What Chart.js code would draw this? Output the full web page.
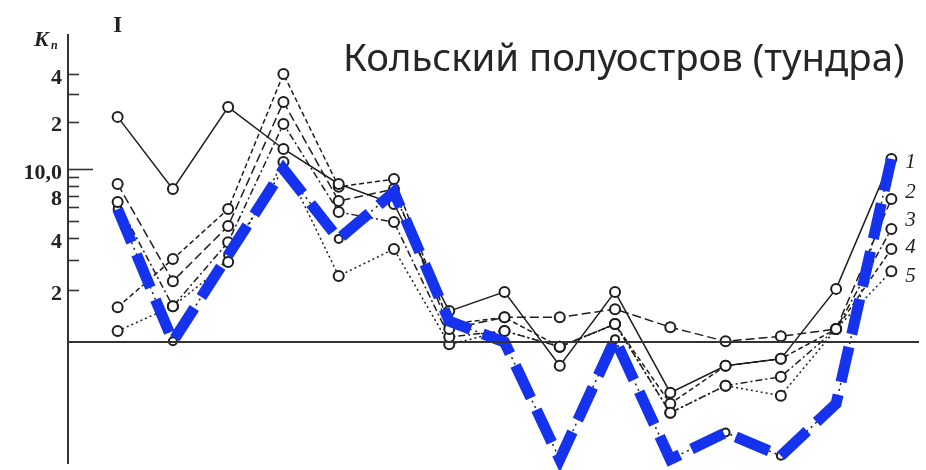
<!DOCTYPE html>
<html>
<head>
<meta charset="utf-8">
<script src="https://cdn.jsdelivr.net/npm/chart.js@4.4.1/dist/chart.umd.min.js"></script>
<style>
  html, body { margin: 0; padding: 0; background: #ffffff; }
  #wrap { width: 926px; height: 470px; position: relative; }
</style>
</head>
<body>
<div id="wrap"><canvas id="c" width="926" height="470"></canvas></div>
<script>
// Observation periods (15 points along the season)
const periods = ['1','2','3','4','5','6','7','8','9','10','11','12','13','14','15'];

// Coefficient Kn for curves 1–5
const curve1 = [21.4, 7.66, 24.7, 13.4, 8.2, 6.28, 1.51, 1.95, 0.73, 1.95, 0.51, 0.73, 0.80, 2.03, 11.6];
const curve2 = [8.2, 2.25, 4.69, 26.6, 6.53, 7.66, 1.19, 1.39, 1.39, 1.55, 1.22, 1.01, 1.08, 1.19, 6.71];
const curve3 = [6.45, 1.61, 3.78, 19.3, 5.64, 4.94, 1.07, 1.16, 0.94, 1.27, 0.39, 0.56, 0.63, 1.19, 4.5];
const curve4 = [1.59, 3.02, 5.87, 40.0, 7.9, 8.75, 1.27, 1.39, 0.94, 1.27, 0.44, 0.73, 0.80, 1.19, 3.45];
const curve5 = [1.16, 1.61, 2.90, 11.1, 2.41, 3.45, 0.97, 1.16, 0.94, 1.27, 0.39, 0.56, 0.49, 1.19, 2.57];

// Highlighted curve (blue)
const highlight = [5.87, 1.01, 3.18, 10.0, 3.94, 7.36, 1.32, 1.0, 0.21, 1.04, 0.21, 0.30, 0.22, 0.44, 11.6];

// Y tick values and their printed labels
const tickValues = [2, 3, 4, 5, 6, 7, 8, 9, 10, 20, 30, 40];
const tickLabels = { 2: '2', 4: '4', 8: '8', 10: '10,0', 20: '2', 40: '4' };

const curveNames = ['1', '2', '3', '4', '5'];
const title = 'Кольский полуостров (тундра)';

// Logarithmic axis whose decade above 10 is drawn a little shorter
const UPPER_DECADE = 0.913;
class KnScale extends Chart.LogarithmicScale {
  _u(v) {
    const l = Math.log10(v);
    return l <= 1 ? l : 1 + UPPER_DECADE * (l - 1);
  }
  getPixelForValue(value) {
    if (value === undefined || value === 0) value = this.min;
    if (value === null || isNaN(value)) return NaN;
    const a = this._u(this.min), b = this._u(this.max);
    return this.getPixelForDecimal((this._u(value) - a) / (b - a));
  }
  getValueForPixel(pixel) {
    const a = this._u(this.min), b = this._u(this.max);
    const u = a + this.getDecimalForPixel(pixel) * (b - a);
    return u <= 1 ? Math.pow(10, u) : Math.pow(10, 1 + (u - 1) / UPPER_DECADE);
  }
}
KnScale.id = 'knlog';
KnScale.defaults = Object.assign({}, Chart.LogarithmicScale.defaults);
Chart.register(KnScale);

const toPoints = arr => arr.map((v, i) => ({ x: i, y: v }));

const blackStyle = (data, dash) => ({
  data: toPoints(data),
  borderColor: '#1e1e1e',
  borderWidth: 1.5,
  borderDash: dash,
  pointRadius: 5,
  pointBorderWidth: 2,
  pointBackgroundColor: '#ffffff',
  pointBorderColor: '#1e1e1e',
  tension: 0,
  clip: false
});

const datasets = [
  {
    data: toPoints(highlight),
    borderColor: '#1533ee',
    borderWidth: 11,
    borderDash: [36, 13],
    borderCapStyle: 'butt',
    borderJoinStyle: 'miter',
    pointRadius: 0,
    tension: 0,
    clip: false
  },
  blackStyle(curve1, []),
  blackStyle(curve2, [9, 4]),
  blackStyle(curve3, [7, 3, 2, 3]),
  blackStyle(curve4, [5, 3]),
  blackStyle(curve5, [2, 3]),
  Object.assign(blackStyle(highlight, [2, 4]), { pointRadius: 4 })
];

const decorations = {
  id: 'decorations',
  afterDatasetsDraw(chart) {
    const { ctx, chartArea, scales } = chart;
    const y = scales.y, x = scales.x;
    ctx.save();
    // baseline at Kn = 1
    const yb = y.getPixelForValue(1);
    ctx.strokeStyle = '#333';
    ctx.lineWidth = 2;
    ctx.beginPath();
    ctx.moveTo(chartArea.left, yb);
    ctx.lineTo(chartArea.right, yb);
    ctx.stroke();

    // tick marks on the inner side of the axis
    ctx.lineWidth = 1.6;
    tickValues.forEach(v => {
      const py = Math.round(y.getPixelForValue(v)) + 0.5;
      const len = v === 10 ? 25 : 11;
      ctx.beginPath();
      ctx.moveTo(chartArea.left, py);
      ctx.lineTo(chartArea.left + len, py);
      ctx.stroke();
    });

    // tick labels, pushed down where they would collide
    ctx.fillStyle = '#222';
    ctx.font = 'bold 22px "Liberation Serif", serif';
    ctx.textAlign = 'right';
    ctx.textBaseline = 'middle';
    let prev = -Infinity;
    tickValues.slice().reverse().forEach(v => {
      const text = tickLabels[v];
      if (!text) return;
      let py = y.getPixelForValue(v) + 4;
      if (py - prev < 26) py = prev + 26;
      ctx.fillText(text, chartArea.left - 6, py);
      prev = py;
    });

    // axis name
    ctx.font = 'italic bold 22px "Liberation Serif", serif';
    ctx.textAlign = 'left';
    ctx.textBaseline = 'alphabetic';
    ctx.fillText('K', 34, 46);
    ctx.font = 'italic bold 12px "Liberation Serif", serif';
    ctx.fillText('n', 51, 49);

    // period mark
    ctx.font = 'bold 23px "Liberation Serif", serif';
    ctx.textAlign = 'center';
    ctx.fillText('I', x.getPixelForValue(0), 32);

    // curve numbers next to the last points
    const series = [curve1, curve2, curve3, curve4, curve5];
    const spread = [4, -7, -9, -2, 5];
    ctx.font = 'italic 21px "Liberation Serif", serif';
    ctx.textAlign = 'left';
    ctx.textBaseline = 'middle';
    series.forEach((s, i) => {
      const last = s.length - 1;
      ctx.fillText(curveNames[i], x.getPixelForValue(last) + 14, y.getPixelForValue(s[last]) + spread[i]);
    });

    // title
    ctx.fillStyle = '#262626';
    ctx.textBaseline = 'alphabetic';
    ctx.textAlign = 'left';
    let size = 36;
    ctx.font = size + 'px "Noto Sans", sans-serif';
    const w = ctx.measureText(title).width;
    size = size * 562 / w;
    ctx.font = size.toFixed(1) + 'px "Noto Sans", sans-serif';
    ctx.fillText(title, 343, 71);
    ctx.restore();
  }
};

new Chart(document.getElementById('c'), {
  type: 'line',
  data: { labels: periods, datasets },
  options: {
    responsive: false,
    animation: false,
    events: [],
    layout: { padding: { top: 35, bottom: 7, left: 0, right: 0 } },
    plugins: { legend: { display: false }, tooltip: { enabled: false }, title: { display: false } },
    scales: {
      x: {
        type: 'linear',
        display: false,
        min: -0.898,
        max: 14.5
      },
      y: {
        type: 'knlog',
        position: 'left',
        min: 0.2,
        max: 70.6,
        afterFit(scale) {
          scale.width = 68;
          scale.paddingTop = 0;
          scale.paddingBottom = 0;
        },
        afterBuildTicks(scale) {
          scale.ticks = tickValues.map(v => ({ value: v }));
        },
        grid: { display: false, drawTicks: false },
        border: { display: true, color: '#333', width: 2 },
        ticks: { display: false }
      }
    }
  },
  plugins: [decorations]
});
</script>
</body>
</html>
